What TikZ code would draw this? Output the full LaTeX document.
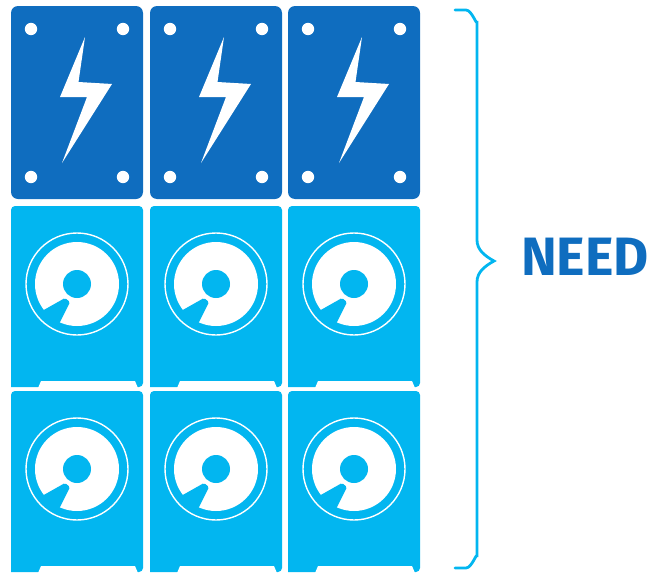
\documentclass[tikz,border=0pt]{standalone}
\usepackage{fontspec}
\setmainfont{Fira Sans}
\definecolor{powerblue}{HTML}{0F6DBF}
\definecolor{diskblue}{HTML}{02B6F0}
\tikzset{
    powercard/.style={fill=powerblue, rounded corners=7pt},
    diskcard/.style={fill=diskblue},
    whitepart/.style={fill=white},
    diskring/.style={draw=white, line width=1.4pt},
    bracket/.style={draw=diskblue, line width=2.8pt, line cap=round},
}
\begin{document}
\begin{tikzpicture}[x=1pt, y=-1pt]
    \useasboundingbox (0,0) rectangle (654,573);
    \foreach \dx in {0,139,277} {
        \begin{scope}[xshift=\dx pt]
            \fill[powercard] (11,6) rectangle (143,199);
            \fill[whitepart] (85,37) -- (78.5,82) -- (112,84) -- (62,163) -- (87,97) -- (60,97) -- cycle;
            \fill[whitepart] (31,29) circle (6.2pt);
            \fill[whitepart] (123,29) circle (6.2pt);
            \fill[whitepart] (31,177) circle (6.2pt);
            \fill[whitepart] (123,177) circle (6.2pt);
        \end{scope}
        \foreach \dy in {206,391} {
            \begin{scope}[xshift=\dx pt, yshift=-\dy pt]
                \fill[diskcard] (11,181) -- (11,4) arc[start angle=180, end angle=90, radius=4pt] -- (139,0) arc[start angle=90, end angle=0, radius=4pt] -- (143,177) arc[start angle=0, end angle=-90, radius=4pt] -- cycle;
                \fill[whitepart] (38,182) -- (41,175) -- (135,175) -- (138,182) -- cycle;
                \draw[diskring] (77,78) circle (51pt);
                \fill[whitepart] (77,78) circle (42pt);
                \fill[diskblue] (77,78) circle (14pt);
                \fill[diskblue, rounded corners=1.5pt] (42,105) -- (65,92) -- (70,96) -- (59,118) -- cycle;
            \end{scope}
        }
    }
    \draw[bracket] (455,10) -- (466,10) to[out=0, in=-90] (477,21) -- (477,240) .. controls (477,250) and (485,256) .. (494,261) .. controls (485,266) and (477,272) .. (477,282) -- (477,557) to[out=90, in=0] (466,568) -- (455,568);
    \node[text=powerblue, anchor=center, inner sep=0pt] (need) at (585,257) {\fontsize{54}{54}\selectfont\bfseries NEED};
\end{tikzpicture}
\end{document}
